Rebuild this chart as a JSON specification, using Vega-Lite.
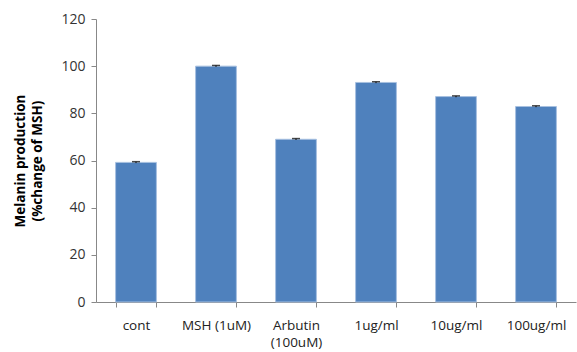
{
  "$schema": "https://vega.github.io/schema/vega-lite/v6.json",
  "autosize": "none",
  "width": 480,
  "height": 283,
  "padding": {"left": 96, "top": 19, "right": 1, "bottom": 50},
  "config": {"view": {"stroke": null}, "font": "Open Sans"},
  "data": {
    "values": [
      {"group": "cont", "value": 59.2, "err": 0.3},
      {"group": "MSH (1uM)", "value": 100.0, "err": 0.3},
      {"group": "Arbutin (100uM)", "value": 69.0, "err": 0.3},
      {"group": "1ug/ml", "value": 93.1, "err": 0.3},
      {"group": "10ug/ml", "value": 87.1, "err": 0.3},
      {"group": "100ug/ml", "value": 82.9, "err": 0.3}
    ]
  },
  "encoding": {
    "x": {
      "field": "group", "type": "nominal", "sort": null,
      "scale": {"paddingInner": 0.49, "paddingOuter": 0.245},
      "axis": {
        "title": null, "labelAngle": 0, "labelFontSize": 13.5, "labelColor": "#222",
        "labelPadding": 11, "labelLineHeight": 17, "domainColor": "#888", "tickColor": "#888", "tickSize": 5,
        "tickBand": "extent",
        "labelExpr": "datum.label == 'Arbutin (100uM)' ? ['Arbutin', '(100uM)'] : datum.label"
      }
    }
  },
  "layer": [
    {
      "mark": {"type": "bar", "color": "#4F81BD", "stroke": "#A7C0E0", "strokeWidth": 1},
      "encoding": {
        "y": {
          "field": "value", "type": "quantitative",
          "scale": {"domain": [0, 120]},
          "axis": {
            "values": [0, 20, 40, 60, 80, 100, 120], "grid": false,
            "title": ["Melanin production", "(%change of MSH)"],
            "titleFontSize": 13.5, "titleFontWeight": "bold", "titleColor": "#000",
            "titleLineHeight": 17, "titlePadding": 16,
            "labelFontSize": 14, "labelColor": "#333", "labelPadding": 6,
            "domainColor": "#888", "tickColor": "#888", "tickSize": 5
          }
        }
      }
    },
    {
      "mark": {"type": "rule", "color": "#000"},
      "encoding": {
        "y": {"field": "lo", "type": "quantitative"},
        "y2": {"field": "hi"}
      },
      "transform": [
        {"calculate": "datum.value - datum.err", "as": "lo"},
        {"calculate": "datum.value + datum.err", "as": "hi"}
      ]
    },
    {
      "mark": {"type": "tick", "color": "#000", "size": 8, "thickness": 1.5},
      "transform": [{"calculate": "datum.value + datum.err", "as": "hi"}],
      "encoding": {"y": {"field": "hi", "type": "quantitative"}}
    }
  ]
}
